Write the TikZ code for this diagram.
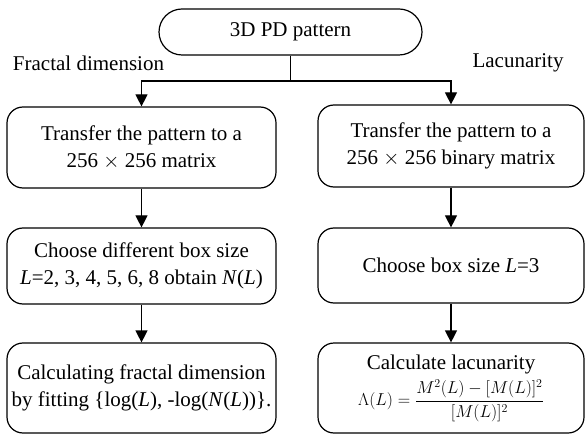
\documentclass[tikz,border=0pt]{standalone}
\usepackage{fontspec}
\setmainfont{Liberation Serif}
\usetikzlibrary{arrows.meta}

\begin{document}
\begin{tikzpicture}[
    x = 1pt, y = -1pt,
    stepbox/.style = {
        rectangle,
        draw,
        line width = 1.2pt,
        rounded corners = 16pt,
        inner sep = 1pt,
        font = \fontsize{21}{27}\selectfont,
        align = center
    },
    fdbox/.style = {stepbox, minimum width = 269pt},
    lacbox/.style = {stepbox, minimum width = 266pt},
    startbox/.style = {stepbox, rounded corners = 23pt, minimum width = 263pt, minimum height = 46pt},
    branch/.style = {font = \fontsize{21}{27}\selectfont},
    arrow/.style = {-{Triangle[width = 12pt, length = 12pt]}, line width = 1.2pt},
    link/.style = {line width = 1.2pt}
]
\useasboundingbox (0,0) rectangle (585,435);

% Start
\node[startbox] (top) at (290.5, 32) {3D PD pattern};
\coordinate (split) at (290.5, 81);

% Branch titles
\node[branch] (fdtitle) at (88.5, 63) {Fractal dimension};
\node[branch] (lactitle) at (518, 63) {Lacunarity};

% Fractal dimension column
\node[fdbox, minimum height = 81pt] (fd1) at (141.5, 147.5) {Transfer the pattern to a\\256 $\times$ 256 matrix};
\node[fdbox, minimum height = 76pt] (fd2) at (141.5, 266) {Choose different box size\\\textit{L}=2, 3, 4, 5, 6, 8 obtain \textit{N}(\textit{L})};
\node[fdbox, minimum height = 90pt] (fd3) at (141.5, 388) {Calculating fractal dimension\\by fitting \{log(\textit{L}), -log(\textit{N}(\textit{L}))\}.};

% Lacunarity column
\node[lacbox, minimum height = 82pt] (lac1) at (451, 146) {Transfer the pattern to a\\256 $\times$ 256 binary matrix};
\node[lacbox, minimum height = 75pt] (lac2) at (451, 265.5) {Choose box size \textit{L}=3};
\node[lacbox, minimum height = 90pt] (lac3) at (451, 388) {Calculate lacunarity\\[5pt]
    {\fontsize{17}{20}\selectfont $\displaystyle \Lambda(L)=\frac{M^{2}(L)-[M(L)]^{2}}{[M(L)]^{2}}$}};

% Connectors
\draw[link] (top) -- (split);
\draw[arrow] (split) -| (fd1);
\draw[arrow] (split) -| (lac1);
\draw[arrow] (fd1) -- (fd2);
\draw[arrow] (fd2) -- (fd3);
\draw[arrow] (lac1) -- (lac2);
\draw[arrow] (lac2) -- (lac3);

\end{tikzpicture}
\end{document}
